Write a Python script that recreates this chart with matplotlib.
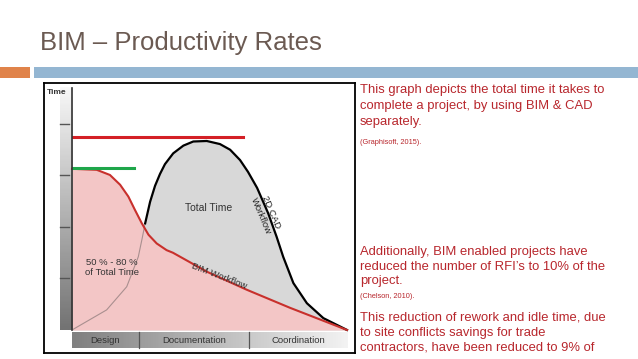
import matplotlib.pyplot as plt
import numpy as np
from matplotlib.patches import Rectangle

plt.rcParams['font.family'] = ['Liberation Sans', 'DejaVu Sans']

# curves (x: project phase 0-10, y: time units)
bim_x = [0, 0.90, 1.38, 1.75, 2.05, 2.29, 2.54, 2.78, 3.08, 3.44, 3.67,
         4.91, 6.36, 7.93, 10]
bim_y = [3.13, 3.11, 3.01, 2.82, 2.59, 2.33, 2.07, 1.85, 1.68, 1.55, 1.50,
         1.13, 0.78, 0.43, 0.0]
cad_x = [0, 1.26, 1.99, 2.41, 2.54, 2.66, 2.84, 3.02, 3.20, 3.38, 3.68,
         4.05, 4.41, 4.90, 5.38, 5.75, 6.11, 6.40, 6.73, 7.13, 7.44, 7.68,
         8.05, 8.54, 9.14, 10]
cad_y = [0, 0.39, 0.84, 1.42, 1.75, 2.07, 2.49, 2.80, 3.03, 3.22, 3.43,
         3.58, 3.66, 3.67, 3.61, 3.50, 3.30, 3.07, 2.76, 2.27, 1.81, 1.42,
         0.91, 0.52, 0.23, 0.0]
cad_peak = 3.75
bim_peak = 3.15
phases = ['Design', 'Documentation', 'Coordination']
phase_edges = [0, 2.44, 6.44, 10]
y_ticks = [1, 2, 3, 4]

para1 = ['This graph depicts the total time it takes to',
         'complete a project, by using BIM & CAD',
         'separately.']
para2 = ['Additionally, BIM enabled projects have',
         'reduced the number of RFI\u2019s to 10% of the',
         'project.']
para3 = ['This reduction of rework and idle time, due',
         'to site conflicts savings for trade',
         'contractors, have been reduced to 9% of']

red = '#b8272d'

fig = plt.figure(figsize=(6.38, 3.59), dpi=100)
bg = fig.add_axes([0, 0, 1, 1])
bg.set_xlim(0, 638)
bg.set_ylim(359, 0)
bg.axis('off')

# slide decorations
bg.text(40, 50, 'BIM \u2013 Productivity Rates', fontsize=18.5, color='#6b5a52',
        va='baseline', ha='left')
bg.add_patch(Rectangle((0, 67), 30, 11, color='#e0834a', lw=0))
bg.add_patch(Rectangle((34, 67), 604, 11, color='#94b6d2', lw=0))

tx = 360
for i, line in enumerate(para1):
    bg.text(tx, 90 + 16 * i, line, fontsize=9.4, color=red, va='center')
bg.text(tx, 142, '(Graphisoft, 2015).', fontsize=5.3, color=red, va='center')
for i, line in enumerate(para2):
    bg.text(tx, 252 + 14.5 * i, line, fontsize=9.4, color=red, va='center')
bg.text(tx, 296, '(Chelson, 2010).', fontsize=5.3, color=red, va='center')
for i, line in enumerate(para3):
    bg.text(tx, 318 + 15 * i, line, fontsize=9.4, color=red, va='center')

# chart axes: frame = chart border
ax = fig.add_axes([44 / 638, 1 - 353 / 359, 311 / 638, 270 / 359])
ax.set_xlim(-1.018, 10.29)
ax.set_ylim(-0.447, 4.796)
ax.set_xticks([])
ax.set_yticks([])
for s in ax.spines.values():
    s.set_linewidth(1.3)

# left gradient bar
grad = np.linspace(0.97, 0.45, 100).reshape(-1, 1)
ax.imshow(grad, cmap='gray', vmin=0, vmax=1, aspect='auto',
          extent=[-0.44, 0, 0, 4.7], zorder=1)
for t in y_ticks:
    ax.plot([-0.44, -0.12], [t, t], color='#555555', lw=1, zorder=2)
ax.plot([0, 0], [0, 4.7], color='#333333', lw=1.2, zorder=6)
ax.text(-0.92, 4.62, 'Time', fontsize=6, fontweight='bold', color='#333333',
        va='center')

# bottom phase band
hgrad = np.linspace(0.5, 0.95, 100).reshape(1, -1)
ax.imshow(hgrad, cmap='gray', vmin=0, vmax=1, aspect='auto',
          extent=[0, 10, -0.35, -0.04], zorder=1)
for e in phase_edges[1:-1]:
    ax.plot([e, e], [-0.35, -0.04], color='#555555', lw=0.9, zorder=2)
for i, p in enumerate(phases):
    ax.text((phase_edges[i] + phase_edges[i + 1]) / 2, -0.195, p,
            fontsize=6.8, color='#333333', ha='center', va='center', zorder=3)

# fills
ax.fill_between(cad_x, cad_y, color='#d8d8d8', lw=0, zorder=2)
ax.fill_between(bim_x, bim_y, color='#f3c6c6', lw=0, zorder=3)
ax.plot(cad_x[:6], cad_y[:6], color='#a98f8f', lw=0.8, zorder=4)
ax.plot(cad_x[5:], cad_y[5:], color='black', lw=1.6, zorder=4,
        solid_joinstyle='round')
ax.plot(bim_x, bim_y, color='#c8302c', lw=1.5, zorder=5,
        solid_joinstyle='round')

ax.plot([0.04, 6.22], [cad_peak, cad_peak], color='#d42026', lw=2.2, zorder=5)
ax.plot([0.04, 2.25], [bim_peak, bim_peak], color='#1ea64a', lw=2.2, zorder=5)

ax.text(4.95, 2.37, 'Total Time', fontsize=7.5, color='#333333',
        ha='center', va='center', zorder=6)
ax.text(7.05, 2.25, '2D CAD\nWorkflow', fontsize=6.8, color='#222222',
        ha='center', va='center', rotation=-67, linespacing=1.3, zorder=6)
ax.text(5.35, 1.05, 'BIM Workflow', fontsize=6.8, color='#333333',
        ha='center', va='center', rotation=-21, zorder=6)
ax.text(1.45, 1.22, '50 % - 80 %\nof Total Time', fontsize=6.8,
        color='#333333', ha='center', va='center', linespacing=1.1, zorder=6)

fig.savefig('out.png', dpi=100)
